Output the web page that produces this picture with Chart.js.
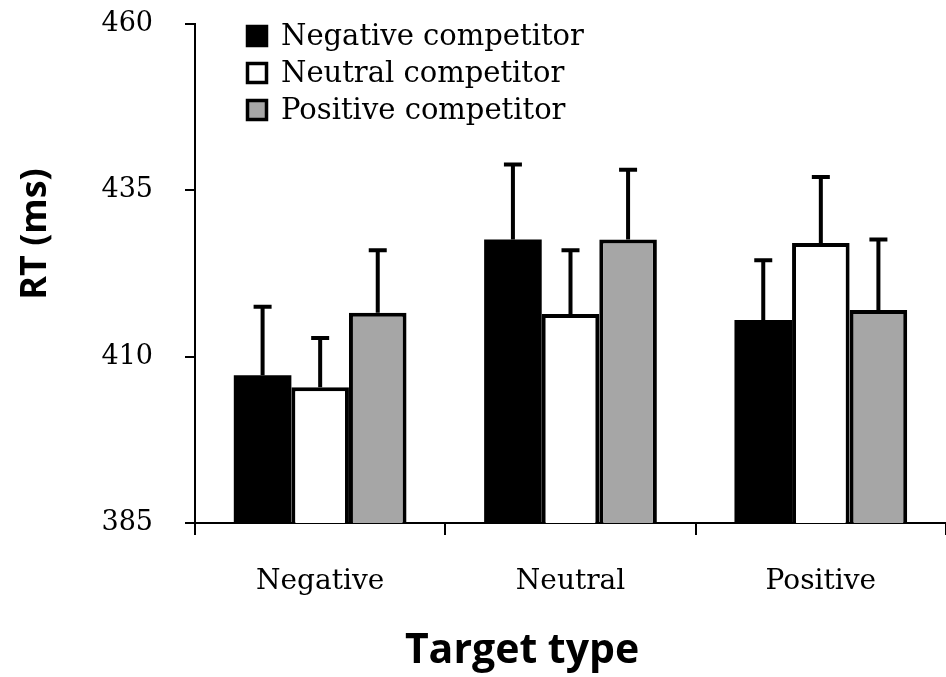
<!DOCTYPE html>
<html>
<head>
<meta charset="utf-8">
<script src="https://cdn.jsdelivr.net/npm/chart.js@4.4.0/dist/chart.umd.min.js"></script>
<style>
  html, body { margin: 0; padding: 0; background: #fff; }
  #wrap { width: 946px; height: 677px; position: relative; }
</style>
</head>
<body>
<div id="wrap"><canvas id="myChart" width="946" height="677"></canvas></div>
<script>
const categorias = ['Negative', 'Neutral', 'Positive'];
const series = ['Negative competitor', 'Neutral competitor', 'Positive competitor'];
const rtNegativo = [407.2, 427.6, 415.5];
const rtNeutral = [405.4, 416.4, 427.1];
const rtPositivo = [416.6, 427.6, 417.0];
const errNegativo = [10.3, 11.3, 9.0];
const errNeutral = [7.4, 9.6, 9.9];
const errPositivo = [9.4, 10.5, 10.6];
const ticksY = [385, 410, 435, 460];

const colores = ['#000000', '#ffffff', '#a6a6a6'];
const serifFont = '"DejaVu Serif", "Liberation Serif", serif';
const boldFont = '"Open Sans", Lato, sans-serif';

const errores = [errNegativo, errNeutral, errPositivo];

// error bars: only the upper half, with a small cap
const errorBars = {
  id: 'errorBars',
  afterDatasetsDraw(chart) {
    const ctx = chart.ctx;
    const yScale = chart.scales.y;
    ctx.save();
    ctx.strokeStyle = '#000';
    ctx.lineWidth = 4;
    chart.data.datasets.forEach((ds, i) => {
      const meta = chart.getDatasetMeta(i);
      meta.data.forEach((bar, j) => {
        const top = yScale.getPixelForValue(ds.data[j] + errores[i][j]);
        ctx.beginPath();
        ctx.moveTo(bar.x, bar.y);
        ctx.lineTo(bar.x, top);
        ctx.moveTo(bar.x - 9, top);
        ctx.lineTo(bar.x + 9, top);
        ctx.stroke();
      });
    });
    ctx.restore();
  }
};

// legend inside the plot and axis titles
const extras = {
  id: 'extras',
  afterDraw(chart) {
    const ctx = chart.ctx;
    ctx.save();
    ctx.font = '29px ' + serifFont;
    ctx.textBaseline = 'middle';
    ctx.textAlign = 'left';
    series.forEach((nombre, i) => {
      const y = 36 + i * 37;
      ctx.fillStyle = colores[i];
      ctx.fillRect(246, y - 11, 22, 22);
      ctx.strokeStyle = '#000';
      ctx.lineWidth = 3.5;
      ctx.strokeRect(247.5, y - 9.5, 19, 19);
      ctx.fillStyle = '#000';
      ctx.fillText(nombre, 281, y + 1);
    });

    ctx.textBaseline = 'alphabetic';
    ctx.textAlign = 'center';
    ctx.font = 'bold 41px ' + boldFont;
    ctx.fillText('Target type', 522, 663);

    ctx.font = 'bold 36px ' + boldFont;
    ctx.translate(46, 234);
    ctx.rotate(-Math.PI / 2);
    ctx.fillText('RT (ms)', 0, 0);
    ctx.restore();
  }
};

const config = {
  type: 'bar',
  data: {
    labels: categorias,
    datasets: series.map((nombre, i) => ({
      label: nombre,
      data: [rtNegativo, rtNeutral, rtPositivo][i],
      backgroundColor: colores[i],
      borderColor: '#000',
      borderWidth: i === 0 ? 0 : 4,
      borderSkipped: 'start',
      categoryPercentage: 0.69,
      barPercentage: 1
    }))
  },
  plugins: [errorBars, extras],
  options: {
    responsive: false,
    animation: false,
    layout: { padding: 0 },
    plugins: {
      legend: { display: false },
      tooltip: { enabled: false }
    },
    scales: {
      x: {
        offset: true,
        grid: {
          offset: true,
          drawOnChartArea: false,
          drawTicks: true,
          tickLength: 12,
          color: '#000',
          lineWidth: 2
        },
        border: { color: '#000', width: 2 },
        ticks: {
          color: '#000',
          font: { family: serifFont, size: 28 },
          padding: 30
        },
        afterFit(scale) { scale.height = 154; }
      },
      y: {
        min: 385,
        max: 460,
        afterBuildTicks(scale) { scale.ticks = ticksY.map(v => ({ value: v })); },
        grid: {
          drawOnChartArea: false,
          drawTicks: true,
          tickLength: 10,
          color: '#000',
          lineWidth: 2
        },
        border: { color: '#000', width: 2 },
        ticks: {
          color: '#000',
          font: { family: serifFont, size: 27 },
          padding: 32
        },
        afterFit(scale) {
          scale.width = 195;
          scale.paddingTop = 24;
        }
      }
    }
  }
};

new Chart(document.getElementById('myChart'), config);
</script>
</body>
</html>
